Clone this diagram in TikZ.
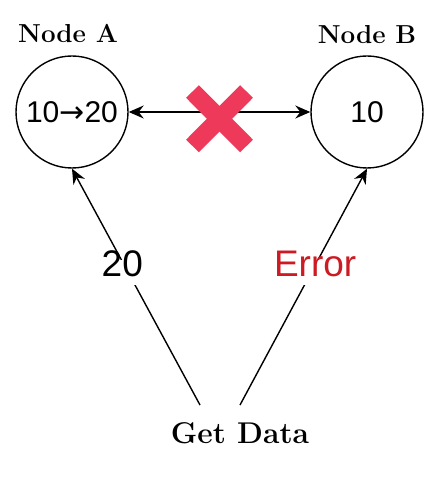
\documentclass[tikz,border=0pt]{standalone}
\usepackage{fontspec}
\setsansfont{Liberation Sans}
\newfontfamily\arrowfont{DejaVu Sans}
\usetikzlibrary{arrows.meta}
\definecolor{crossred}{RGB}{238,57,91}
\definecolor{errred}{RGB}{204,27,35}
\tikzset{
  circ/.style={draw, circle, minimum size=112pt, inner sep=0pt, line width=1.4pt,
    font=\sffamily\fontsize{30}{32}\selectfont},
  ttl/.style={font=\rmfamily\bfseries\fontsize{26}{28}\selectfont, inner sep=0pt},
  lbl/.style={fill=white, inner sep=9pt, text height=0.72em, text depth=0pt,
    font=\sffamily\fontsize{37}{39}\selectfont},
  conn/.style={line width=1.4pt, -{Stealth[length=15pt,width=13pt,inset=5pt]}},
  crossbar/.style={line width=18pt, line cap=butt, crossred}
}
\begin{document}
\begin{tikzpicture}[x=1pt,y=-1pt]
\useasboundingbox (0,0) rectangle (440,478);
\node[circ] (A) at (72,112) {10{\arrowfont\fontsize{30}{32}\selectfont →}20};
\node[circ] (B) at (367,112) {10};
\node[ttl] (tA) at (68,33) {Node A};
\node[ttl] (tB) at (367,35) {Node B};
\node[ttl, font=\rmfamily\bfseries\fontsize{30}{32}\selectfont] (gd) at (240,433) {Get Data};
\coordinate (gA) at (200,405);
\coordinate (gB) at (240,405);
\draw[line width=1.4pt, {Stealth[length=15pt,width=13pt,inset=5pt]}-{Stealth[length=15pt,width=13pt,inset=5pt]}] (A) -- (B);
\draw[crossbar] (192.5,91.5) -- (246.5,146);
\draw[crossbar] (246.5,91.5) -- (192.5,146);
\draw[conn] (gA) -- node[lbl, pos=0.56, xshift=-6pt] (l20) {20} (A.south);
\draw[conn] (gB) -- node[lbl, pos=0.56, xshift=4pt, text=errred] (lerr) {Error} (B.south);
\end{tikzpicture}
\end{document}
